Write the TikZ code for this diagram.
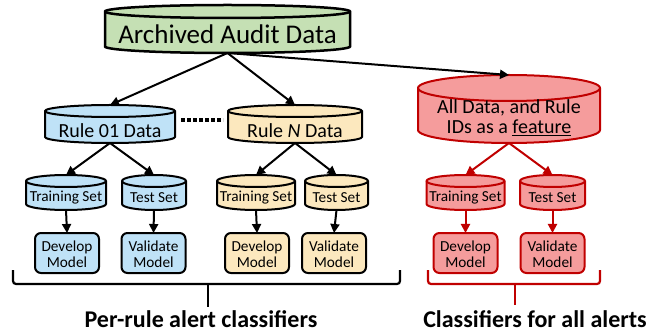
\documentclass[tikz,border=0pt]{standalone}
\usepackage{fontspec}
\setmainfont{Carlito}
\usetikzlibrary{calc,arrows.meta,backgrounds}
\definecolor{cgreen}{HTML}{C5E0B4}
\definecolor{cblue}{HTML}{BFE2F7}
\definecolor{cyellow}{HTML}{FCE8BE}
\definecolor{cred}{HTML}{F59C9C}
\definecolor{dred}{HTML}{C00000}
\newcommand\lowered[2]{\raisebox{-#1}[\height][\depth]{#2}}
\newcommand\cylbg[3]{%
\begin{pgfonlayer}{background}
\path[#3] let \p1=(#1.north west), \p2=(#1.south east), \n1={(\x2-\x1)/2} in
 (\x1,\y1-#2) -- (\x1,\y2+#2) arc[start angle=180,end angle=360,x radius=\n1,y radius=#2]
 -- (\x2,\y1-#2) arc[start angle=0,end angle=180,x radius=\n1,y radius=#2] -- cycle;
\path[#3,fill=none] let \p1=(#1.north west), \p2=(#1.south east), \n1={(\x2-\x1)/2} in
 (\x1,\y1-#2) arc[start angle=180,end angle=360,x radius=\n1,y radius=#2];
\end{pgfonlayer}}
\newcommand\twolines[2]{\lowered{3pt}{\begin{tabular}{@{}c@{}}#1\\#2\end{tabular}}}
\tikzset{
 base/.style={inner sep=0pt, outer sep=0pt, text=black},
 bigfont/.style={font=\fontsize{20}{20}\selectfont},
 smallfont/.style={font=\fontsize{15.3}{15.3}\selectfont},
 smallcyl/.style={base, smallfont, minimum height=35pt, minimum width=#1},
 modelbox/.style={base, rounded corners=6pt, draw=black, line width=2pt, minimum width=64pt, minimum height=40pt, font=\fontsize{15.3}{16}\selectfont},
 greencyl/.style={fill=cgreen, draw=black, line width=2.5pt},
 bluecyl/.style={fill=cblue, draw=black, line width=2pt},
 yellowcyl/.style={fill=cyellow, draw=black, line width=2pt},
 redcyl/.style={fill=cred, draw=dred, line width=2pt},
 arr/.style={line width=2pt, -{Triangle[length=9pt,width=9pt]}},
 rarr/.style={arr, draw=dred},
 brk/.style={line width=2.2pt, rounded corners=3pt},
 biglabel/.style={base, anchor=base, font=\bfseries\fontsize{24}{26}\selectfont}
}
\begin{document}
\begin{tikzpicture}[x=1pt,y=1pt]
\useasboundingbox (0,0) rectangle (663,332);
% data stores
\node[base, minimum width=245pt, minimum height=48pt, font=\fontsize{27}{30}\selectfont] (arch) at (227.5,303) {\lowered{5pt}{Archived Audit Data}};
\node[base, bigfont, minimum width=130pt, minimum height=38pt] (r1) at (110,208) {\lowered{7pt}{Rule 01 Data}};
\node[base, bigfont, minimum width=134pt, minimum height=38pt] (rn) at (295,208) {\lowered{7pt}{Rule \textit{N} Data}};
\node[base, bigfont, minimum width=182pt, minimum height=68pt] (all) at (509,223) {\lowered{11pt}{\begin{tabular}{@{}c@{}}All Data, and Rule\\IDs as a \underline{feature}\end{tabular}}};
\node[smallcyl=80pt] (bt) at (66,139.5) {\lowered{5.5pt}{Training Set}};
\node[smallcyl=64pt] (bs) at (154,139.5) {\lowered{5.5pt}{Test Set}};
\node[smallcyl=78pt] (yt) at (256,139.5) {\lowered{5.5pt}{Training Set}};
\node[smallcyl=63pt] (ys) at (336.5,139.5) {\lowered{5.5pt}{Test Set}};
\node[smallcyl=78pt] (rt) at (465.5,139.5) {\lowered{5.5pt}{Training Set}};
\node[smallcyl=65pt] (rs) at (552.5,139.5) {\lowered{5.5pt}{Test Set}};
\cylbg{arch}{6.5pt}{greencyl}
\cylbg{r1}{6pt}{bluecyl}
\cylbg{rn}{6pt}{yellowcyl}
\cylbg{all}{13pt}{redcyl}
\cylbg{bt}{6pt}{bluecyl}
\cylbg{bs}{6pt}{bluecyl}
\cylbg{yt}{6pt}{yellowcyl}
\cylbg{ys}{6pt}{yellowcyl}
\cylbg{rt}{6pt}{redcyl}
\cylbg{rs}{6pt}{redcyl}
% model boxes
\node[modelbox, fill=cblue] (bd) at (67,79) {\twolines{Develop}{Model}};
\node[modelbox, fill=cblue] (bv) at (153.5,79) {\twolines{Validate}{Model}};
\node[modelbox, fill=cyellow] (yd) at (257,79) {\twolines{Develop}{Model}};
\node[modelbox, fill=cyellow] (yv) at (334,79) {\twolines{Validate}{Model}};
\node[modelbox, fill=cred, draw=dred] (rd) at (465.5,79) {\twolines{Develop}{Model}};
\node[modelbox, fill=cred, draw=dred] (rv) at (552.5,79) {\twolines{Validate}{Model}};
% connectors
\draw[arr] (arch.south) -- (r1.north);
\draw[arr] (arch.south) -- (rn.north);
\draw[arr] (arch.south) -- (all.north);
\draw[line width=3.5pt, dash pattern=on 3.5pt off 2.5pt] ($(r1.east)+(6pt,4pt)$) -- ($(rn.west)+(-5pt,4pt)$);
\draw[arr] (r1.south) -- (bt.north);
\draw[arr] (r1.south) -- (bs.north);
\draw[arr] (rn.south) -- (yt.north);
\draw[arr] (rn.south) -- (ys.north);
\draw[rarr] (all.south) -- (rt.north);
\draw[rarr] (all.south) -- (rs.north);
\draw[arr] (bt.south) -- (bd.north);
\draw[arr] (bs.south) -- (bv.north);
\draw[arr] (yt.south) -- (yd.north);
\draw[arr] (ys.south) -- (yv.north);
\draw[rarr] (rt.south) -- (rd.north);
\draw[rarr] (rs.south) -- (rv.north);
% brackets and labels
\node[biglabel] (lab1) at (201,5) {Per-rule alert classifiers};
\node[biglabel] (lab2) at (535,5) {Classifiers for all alerts};
\draw[brk] (13,62) -- (13,48) -- (400,48) -- (400,62);
\draw[brk] (208,48) -- (208,25);
\draw[brk, draw=dred] (428,62) -- (428,48) -- (600,48) -- (600,62);
\draw[brk, draw=dred] (515,48) -- (515,27);
\end{tikzpicture}
\end{document}
